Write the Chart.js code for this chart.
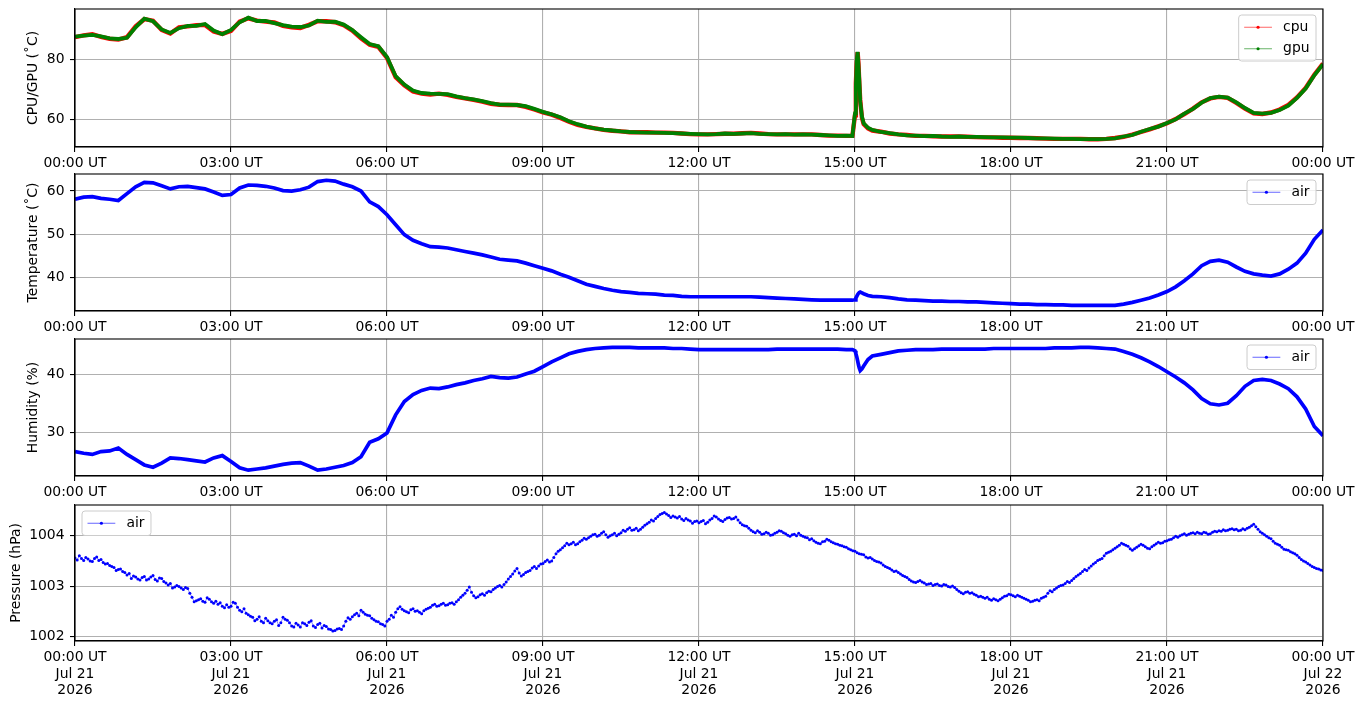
<!DOCTYPE html>
<html><head><meta charset="utf-8">
<script src="https://cdn.jsdelivr.net/npm/chart.js@4.4.0/dist/chart.umd.min.js"></script>
<style>
html,body{margin:0;padding:0;background:#fff;}
#wrap{position:relative;width:1364px;height:707px;overflow:hidden;background:#fff;}
canvas{position:absolute;left:0;}
</style></head><body>
<div id="wrap">
<canvas id="c1" width="1364" height="172" style="top:0px;width:1364px;height:172px"></canvas>
<canvas id="c2" width="1364" height="163" style="top:172px;width:1364px;height:163px"></canvas>
<canvas id="c3" width="1364" height="166" style="top:335px;width:1364px;height:166px"></canvas>
<canvas id="c4" width="1364" height="206" style="top:501px;width:1364px;height:206px"></canvas>
</div>
<script>
// ---- data ----
// sample times (minutes after 00:00 UT, Jul 21 2026) for cpu/gpu/air temperature/humidity
const timeMinutes = [
  0,10,20,30,40,50,60,70,80,90,
  100,110,120,130,140,150,160,170,180,190,
  200,210,220,230,240,250,260,270,280,290,
  300,310,320,330,340,350,360,370,380,390,
  400,410,420,430,440,450,460,470,480,490,
  500,510,520,530,540,550,560,570,580,590,
  600,610,620,630,640,650,660,670,680,690,
  700,710,720,730,740,750,760,770,780,790,
  800,810,820,830,840,850,860,870,880,890,
  897,900,901,902,903,904,905,906,908,910,915,920,
  930,940,950,960,970,980,990,1000,1010,1020,
  1030,1040,1050,1060,1070,1080,1090,1100,1110,1120,
  1130,1140,1150,1160,1170,1180,1190,1200,1210,1220,
  1230,1240,1250,1260,1270,1280,1290,1300,1310,1320,
  1330,1340,1350,1360,1370,1380,1390,1400,1410,1420,
  1430,1440
];
const cpuTemp = [
  87.4,88.0,88.4,87.5,86.9,86.6,87.4,91.0,93.4,92.9,
  89.8,88.6,90.7,91.0,91.4,91.5,89.3,88.5,89.5,92.6,
  93.7,92.9,92.6,92.3,91.2,90.7,90.5,91.5,92.7,92.7,
  92.4,91.4,89.6,87.0,84.9,84.2,80.5,74.1,71.4,69.3,
  68.6,68.3,68.6,68.2,67.5,67.0,66.5,65.9,65.2,64.9,
  64.8,64.8,64.2,63.3,62.3,61.6,60.5,59.2,58.2,57.5,
  57.0,56.5,56.2,56.0,55.7,55.7,55.7,55.6,55.6,55.5,
  55.3,55.1,55.0,55.0,55.1,55.2,55.2,55.4,55.5,55.3,
  55.1,55.0,55.0,55.0,55.0,55.0,54.8,54.6,54.6,54.5,
  54.5,61.4,72.0,78.6,82.4,78.6,72.0,66.5,60.5,58.4,57.0,56.3,
  55.9,55.3,55.0,54.8,54.5,54.5,54.4,54.3,54.3,54.3,
  54.2,54.1,54.0,54.0,53.9,53.9,53.8,53.8,53.7,53.6,
  53.5,53.5,53.5,53.5,53.4,53.4,53.5,53.8,54.2,54.9,
  55.8,56.7,57.7,58.7,60.1,61.8,63.6,65.7,67.0,67.5,
  67.2,65.5,63.6,62.0,61.8,62.3,63.3,64.8,67.3,70.5,
  74.9,78.6
];
const gpuTemp = [
  87.6,87.9,88.2,87.7,87.0,86.8,87.2,90.7,93.6,92.7,
  90.0,88.8,90.4,91.2,91.2,91.8,89.6,88.4,89.8,92.4,
  93.9,92.8,92.8,92.1,91.4,90.9,90.8,91.3,92.9,92.5,
  92.6,91.6,89.8,87.4,85.1,84.4,80.8,74.4,71.6,69.6,
  68.8,68.6,68.5,68.4,67.7,67.1,66.7,66.1,65.4,64.9,
  64.9,64.8,64.4,63.5,62.5,61.7,60.7,59.4,58.4,57.6,
  57.0,56.6,56.3,56.0,55.8,55.7,55.6,55.6,55.5,55.4,
  55.3,55.2,55.1,55.0,55.1,55.3,55.2,55.3,55.4,55.2,
  55.1,55.0,55.1,54.9,55.0,54.9,54.8,54.7,54.5,54.6,
  54.5,62.0,71.0,79.5,82.5,78.0,73.0,66.0,61.0,58.7,57.2,56.5,
  55.8,55.4,55.0,54.7,54.6,54.4,54.5,54.3,54.2,54.3,
  54.2,54.2,54.1,54.0,54.0,53.9,53.9,53.8,53.7,53.7,
  53.6,53.5,53.5,53.4,53.4,53.4,53.5,53.7,54.3,54.8,
  55.9,56.8,57.6,58.8,60.0,61.9,63.5,65.6,67.1,67.6,
  67.3,65.7,63.8,62.2,61.9,62.2,63.1,64.6,67.2,70.3,
  74.7,78.4
];
const airTemp = [
  58.1,58.6,58.7,58.3,58.1,57.8,59.4,61.0,62.0,61.9,
  61.2,60.5,61.0,61.1,60.8,60.5,59.8,59.0,59.2,60.7,
  61.4,61.3,61.1,60.7,60.1,60.0,60.3,60.9,62.2,62.5,
  62.3,61.6,61.0,60.0,57.5,56.4,54.5,52.2,49.9,48.6,
  47.8,47.1,47.0,46.8,46.4,46.0,45.6,45.2,44.7,44.2,
  44.0,43.8,43.3,42.7,42.1,41.5,40.7,40.0,39.2,38.4,
  37.9,37.4,37.0,36.7,36.5,36.3,36.2,36.1,35.9,35.8,
  35.6,35.5,35.5,35.5,35.5,35.5,35.5,35.5,35.5,35.4,
  35.3,35.2,35.1,35.0,34.9,34.8,34.7,34.7,34.7,34.7,
  34.7,34.8,35.2,35.6,36.0,36.3,36.5,36.6,36.4,36.2,35.8,35.6,
  35.5,35.3,35.0,34.8,34.7,34.6,34.5,34.5,34.4,34.4,
  34.3,34.3,34.2,34.1,34.0,33.9,33.8,33.8,33.7,33.7,
  33.6,33.6,33.5,33.5,33.5,33.5,33.5,33.5,33.8,34.2,
  34.7,35.2,35.9,36.7,37.8,39.2,40.8,42.7,43.7,44.0,
  43.5,42.4,41.4,40.8,40.5,40.3,40.8,41.9,43.3,45.6,
  48.8,51.0
];
const airHumidity = [
  26.7,26.4,26.2,26.7,26.8,27.3,26.2,25.3,24.4,24.0,
  24.7,25.6,25.5,25.3,25.1,24.9,25.6,26.0,25.0,23.9,
  23.5,23.7,23.9,24.2,24.5,24.7,24.8,24.2,23.5,23.7,
  24.0,24.3,24.8,25.8,28.3,28.9,29.9,33.0,35.3,36.5,
  37.2,37.6,37.5,37.8,38.2,38.5,38.9,39.2,39.6,39.4,
  39.3,39.5,40.0,40.5,41.3,42.1,42.8,43.5,43.9,44.2,
  44.4,44.5,44.6,44.6,44.6,44.5,44.5,44.5,44.5,44.4,
  44.4,44.3,44.2,44.2,44.2,44.2,44.2,44.2,44.2,44.2,
  44.2,44.3,44.3,44.3,44.3,44.3,44.3,44.3,44.3,44.2,
  44.2,44.0,43.5,43.0,42.3,41.6,41.0,40.6,40.9,41.4,42.5,43.1,
  43.4,43.7,44.0,44.1,44.2,44.2,44.2,44.3,44.3,44.3,
  44.3,44.3,44.3,44.4,44.4,44.4,44.4,44.4,44.4,44.4,
  44.5,44.5,44.5,44.6,44.6,44.5,44.4,44.3,43.9,43.4,
  42.8,42.1,41.3,40.4,39.5,38.5,37.3,35.8,34.9,34.7,
  35.0,36.3,37.9,38.9,39.1,38.9,38.3,37.5,36.1,34.0,
  31.0,29.4
];
// air pressure (hPa) every 2.5 minutes from 00:00 to 24:00 UT, one row per hour
const airPressure = [
  1003.56,1003.52,1003.60,1003.55,1003.51,1003.57,1003.54,1003.50,1003.49,1003.55,1003.58,1003.51,1003.53,1003.47,1003.44,1003.45,1003.41,1003.39,1003.37,1003.31,1003.33,1003.34,1003.29,1003.27,
  1003.22,1003.25,1003.15,1003.20,1003.18,1003.14,1003.12,1003.17,1003.19,1003.12,1003.14,1003.18,1003.21,1003.13,1003.10,1003.16,1003.15,1003.09,1003.06,1003.02,1003.05,1002.96,1002.98,1003.01,
  1002.99,1002.96,1002.93,1002.97,1002.95,1002.86,1002.78,1002.69,1002.71,1002.73,1002.75,1002.70,1002.68,1002.77,1002.74,1002.69,1002.66,1002.70,1002.64,1002.67,1002.60,1002.57,1002.63,1002.58,
  1002.60,1002.68,1002.66,1002.58,1002.52,1002.49,1002.55,1002.46,1002.43,1002.40,1002.38,1002.31,1002.34,1002.39,1002.30,1002.27,1002.36,1002.31,1002.27,1002.25,1002.30,1002.33,1002.22,1002.27,
  1002.38,1002.34,1002.32,1002.27,1002.21,1002.19,1002.26,1002.23,1002.19,1002.27,1002.25,1002.22,1002.28,1002.31,1002.21,1002.18,1002.24,1002.26,1002.17,1002.22,1002.20,1002.15,1002.14,1002.11,
  1002.12,1002.15,1002.16,1002.14,1002.21,1002.30,1002.37,1002.34,1002.39,1002.43,1002.46,1002.41,1002.52,1002.48,1002.44,1002.42,1002.41,1002.36,1002.33,1002.30,1002.29,1002.25,1002.24,1002.21,
  1002.30,1002.34,1002.42,1002.38,1002.48,1002.55,1002.59,1002.54,1002.51,1002.49,1002.47,1002.53,1002.55,1002.50,1002.51,1002.48,1002.45,1002.51,1002.54,1002.56,1002.58,1002.62,1002.64,1002.60,
  1002.61,1002.64,1002.66,1002.62,1002.63,1002.66,1002.67,1002.64,1002.69,1002.73,1002.78,1002.82,1002.86,1002.92,1002.98,1002.88,1002.81,1002.77,1002.79,1002.83,1002.85,1002.82,1002.87,1002.90,
  1002.89,1002.93,1002.96,1002.99,1003.01,1002.98,1003.03,1003.08,1003.14,1003.19,1003.24,1003.30,1003.35,1003.26,1003.20,1003.23,1003.27,1003.29,1003.31,1003.36,1003.39,1003.35,1003.40,1003.44,
  1003.45,1003.49,1003.52,1003.48,1003.50,1003.57,1003.64,1003.69,1003.72,1003.76,1003.80,1003.85,1003.82,1003.84,1003.87,1003.82,1003.84,1003.88,1003.91,1003.95,1003.93,1003.96,1003.99,1004.02,
  1004.03,1003.99,1004.01,1004.05,1004.08,1004.02,1003.97,1004.00,1004.02,1004.05,1004.00,1004.03,1004.06,1004.11,1004.09,1004.13,1004.16,1004.11,1004.12,1004.15,1004.10,1004.13,1004.17,1004.21,
  1004.24,1004.27,1004.31,1004.29,1004.34,1004.38,1004.42,1004.44,1004.46,1004.43,1004.40,1004.36,1004.39,1004.37,1004.35,1004.38,1004.33,1004.30,1004.34,1004.31,1004.29,1004.25,1004.28,1004.29,
  1004.26,1004.28,1004.30,1004.24,1004.27,1004.31,1004.34,1004.39,1004.37,1004.33,1004.30,1004.28,1004.32,1004.35,1004.36,1004.33,1004.34,1004.37,1004.31,1004.26,1004.22,1004.20,1004.19,1004.15,
  1004.11,1004.08,1004.06,1004.10,1004.07,1004.03,1004.04,1004.07,1004.05,1004.01,1004.02,1004.05,1004.07,1004.10,1004.09,1004.06,1004.04,1004.01,1003.99,1004.02,1004.03,1004.00,1004.05,1004.01,
  1003.99,1003.97,1003.96,1003.92,1003.94,1003.90,1003.87,1003.85,1003.84,1003.88,1003.89,1003.93,1003.91,1003.88,1003.86,1003.84,1003.83,1003.81,1003.80,1003.78,1003.77,1003.74,1003.72,1003.70,
  1003.69,1003.66,1003.64,1003.63,1003.62,1003.58,1003.56,1003.57,1003.54,1003.51,1003.49,1003.48,1003.46,1003.42,1003.39,1003.37,1003.35,1003.32,1003.29,1003.30,1003.27,1003.24,1003.21,1003.19,
  1003.17,1003.13,1003.10,1003.08,1003.07,1003.09,1003.11,1003.08,1003.06,1003.03,1003.04,1003.05,1003.01,1003.03,1003.04,1003.01,1003.00,1003.03,1003.02,1002.99,1002.98,1003.00,1002.97,1002.93,
  1002.90,1002.87,1002.85,1002.88,1002.89,1002.86,1002.87,1002.84,1002.82,1002.79,1002.80,1002.78,1002.76,1002.78,1002.74,1002.72,1002.75,1002.73,1002.71,1002.74,1002.77,1002.80,1002.81,1002.84,
  1002.83,1002.81,1002.79,1002.82,1002.80,1002.78,1002.76,1002.74,1002.72,1002.69,1002.70,1002.72,1002.73,1002.71,1002.76,1002.78,1002.80,1002.86,1002.91,1002.89,1002.93,1002.96,1002.99,1003.01,
  1003.02,1003.05,1003.09,1003.07,1003.11,1003.15,1003.19,1003.22,1003.25,1003.29,1003.33,1003.31,1003.36,1003.40,1003.44,1003.47,1003.51,1003.53,1003.55,1003.60,1003.65,1003.67,1003.69,1003.72,
  1003.75,1003.78,1003.81,1003.85,1003.83,1003.81,1003.79,1003.74,1003.71,1003.74,1003.77,1003.80,1003.83,1003.81,1003.78,1003.75,1003.74,1003.78,1003.81,1003.84,1003.87,1003.85,1003.86,1003.89,
  1003.90,1003.92,1003.93,1003.96,1003.99,1003.97,1004.00,1004.02,1004.04,1004.01,1004.03,1004.05,1004.06,1004.04,1004.07,1004.05,1004.04,1004.07,1004.06,1004.03,1004.04,1004.07,1004.09,1004.08,
  1004.10,1004.09,1004.12,1004.10,1004.11,1004.13,1004.14,1004.12,1004.13,1004.10,1004.11,1004.14,1004.12,1004.15,1004.17,1004.20,1004.23,1004.18,1004.13,1004.08,1004.05,1004.02,1003.99,1003.96,
  1003.94,1003.89,1003.85,1003.83,1003.81,1003.77,1003.73,1003.72,1003.71,1003.68,1003.66,1003.64,1003.61,1003.57,1003.53,1003.50,1003.48,1003.45,1003.42,1003.39,1003.37,1003.35,1003.34,1003.32,
  1003.31
];
const pressureMinutes = airPressure.map((_, i) => i * 2.5);

const xTickMinutes = [0,180,360,540,720,900,1080,1260,1440];
const xTickTimes = ["00:00 UT","03:00 UT","06:00 UT","09:00 UT","12:00 UT","15:00 UT","18:00 UT","21:00 UT","00:00 UT"];
const xTickDates = ["Jul 21","Jul 21","Jul 21","Jul 21","Jul 21","Jul 21","Jul 21","Jul 21","Jul 22"];
const xTickYears = ["2026","2026","2026","2026","2026","2026","2026","2026","2026"];
const cpuTicks = [60,80];
const tempTicks = [40,50,60];
const humidityTicks = [30,40];
const pressureTicks = [1002,1003,1004];

// ---- drawing ----
const FONT = {family:"'DejaVu Sans', sans-serif", size:13.9};
const FONT_CSS = "13.9px 'DejaVu Sans', sans-serif";

const framePlugin = {
  id:'frame',
  afterDraw(chart){
    const {ctx, chartArea:a} = chart;
    ctx.save();
    ctx.strokeStyle = '#000';
    ctx.lineWidth = 1.1;
    ctx.strokeRect(a.left, a.top, a.right - a.left, a.bottom - a.top);
    ctx.restore();
  }
};

const legendPlugin = {
  id:'mplLegend',
  afterDraw(chart, args, opts){
    if (!opts || !opts.corner) return;
    const ctx = chart.ctx, a = chart.chartArea;
    const items = chart.data.datasets.map(d => ({label:d.label, line:d.legendLine, dot:d.legendDot}));
    ctx.save();
    ctx.font = FONT_CSS;
    const pad = 5.5, rowH = 13.5, gap = 8, handle = 27.8, tpad = 11.1, inset = 7;
    const tw = Math.max(...items.map(it => ctx.measureText(it.label).width));
    const n = items.length;
    const w = pad*2 + handle + tpad + tw + 1;
    const h = pad*2 + rowH*n + gap*(n-1);
    const x0 = opts.corner === 'tl' ? a.left + inset : a.right - inset - w;
    const y0 = a.top + inset - 1;
    ctx.beginPath();
    if (ctx.roundRect) ctx.roundRect(x0, y0, w, h, 3); else ctx.rect(x0, y0, w, h);
    ctx.fillStyle = 'rgba(255,255,255,0.8)';
    ctx.fill();
    ctx.strokeStyle = '#cccccc';
    ctx.lineWidth = 1;
    ctx.stroke();
    items.forEach((it, i) => {
      const cy = y0 + pad + rowH/2 + i*(rowH + gap);
      const lx = x0 + pad;
      ctx.beginPath();
      ctx.moveTo(lx, cy); ctx.lineTo(lx + handle, cy);
      ctx.strokeStyle = it.line; ctx.lineWidth = 1;
      ctx.stroke();
      ctx.beginPath();
      ctx.arc(lx + handle/2, cy, 1.6, 0, Math.PI*2);
      ctx.fillStyle = it.dot; ctx.fill();
      ctx.fillStyle = '#000';
      ctx.textBaseline = 'middle';
      ctx.textAlign = 'left';
      ctx.fillText(it.label, lx + handle + tpad, cy);
    });
    ctx.restore();
  }
};

const gridOpts = {color:'#b0b0b0', lineWidth:1.1, tickLength:5, tickColor:'#000', tickWidth:1.1};
const borderOpts = {display:true, color:'#000', width:1.1};

function makeChart(id, cfg){
  return new Chart(document.getElementById(id), {
    type:'line',
    data:{labels:cfg.labels, datasets:cfg.datasets},
    options:{
      responsive:false, animation:false, devicePixelRatio:1, events:[],
      layout:{padding:{top:cfg.padTop, left:0, right:41, bottom:0}},
      elements:{line:{tension:0}},
      plugins:{legend:{display:false}, tooltip:{enabled:false}, mplLegend:{corner:cfg.corner}},
      scales:{
        x:{
          type:'linear', min:0, max:1440,
          afterBuildTicks(s){ s.ticks = xTickMinutes.map(v => ({value:v})); },
          afterFit(s){ s.height = cfg.xHeight; s.paddingLeft = 0; s.paddingRight = 0; },
          ticks:{autoSkip:false, maxRotation:0, minRotation:0, padding:3, color:'#000', font:FONT,
                 callback:(v, i) => cfg.xLabel(i)},
          grid:gridOpts, border:borderOpts
        },
        y:{
          type:'linear', min:cfg.yMin, max:cfg.yMax,
          afterBuildTicks(s){ s.ticks = cfg.yTicks.map(v => ({value:v})); },
          afterFit(s){ s.width = 75; s.paddingTop = 0; s.paddingBottom = 0; },
          ticks:{padding:5.5, color:'#000', font:FONT, callback:v => String(v)},
          grid:gridOpts, border:borderOpts,
          title:{display:true, text:cfg.yTitle, color:'#000', font:FONT, padding:{top:cfg.titlePad, bottom:0}}
        }
      }
    },
    plugins:[framePlugin, legendPlugin]
  });
}

function bandSeries(label, values, color, width, legendLine, order){
  return {label, data:values, borderColor:color, borderWidth:width, pointRadius:0,
          clip:0, order, legendLine, legendDot:color};
}

const singleLine = i => xTickTimes[i];
const threeLines = i => [xTickTimes[i], xTickDates[i], xTickYears[i]];

makeChart('c1', {
  labels: timeMinutes,
  datasets: [
    bandSeries('cpu', cpuTemp, '#ff0000', 4.4, 'rgba(255,0,0,0.6)', 2),
    bandSeries('gpu', gpuTemp, '#008000', 3.8, 'rgba(0,128,0,0.6)', 1)
  ],
  yMin:50.8, yMax:96.8, yTicks:cpuTicks, yTitle:'CPU/GPU (\u02daC)', titlePad:25.5,
  padTop:9, xHeight:25, xLabel:singleLine, corner:'tr'
});
makeChart('c2', {
  labels: timeMinutes,
  datasets: [ bandSeries('air', airTemp, '#0000ff', 3.7, 'rgba(0,0,255,0.6)', 1) ],
  yMin:32.2, yMax:63.95, yTicks:tempTicks, yTitle:'Temperature (\u02daC)', titlePad:25.5,
  padTop:2, xHeight:24, xLabel:singleLine, corner:'tr'
});
makeChart('c3', {
  labels: timeMinutes,
  datasets: [ bandSeries('air', airHumidity, '#0000ff', 3.7, 'rgba(0,0,255,0.6)', 1) ],
  yMin:22.5, yMax:46.03, yTicks:humidityTicks, yTitle:'Humidity (%)', titlePad:25.5,
  padTop:4, xHeight:25, xLabel:singleLine, corner:'tr'
});
makeChart('c4', {
  labels: pressureMinutes,
  datasets: [{
    label:'air', data:airPressure, borderColor:'rgba(0,0,255,0.6)', borderWidth:0.8,
    pointRadius:1.5, pointBackgroundColor:'#0000ff', pointBorderWidth:0, clip:0,
    legendLine:'rgba(0,0,255,0.6)', legendDot:'#0000ff'
  }],
  yMin:1001.91, yMax:1004.61, yTicks:pressureTicks, yTitle:'Pressure (hPa)', titlePad:8,
  padTop:3, xHeight:66, xLabel:threeLines, corner:'tl'
});
</script>
</body></html>
